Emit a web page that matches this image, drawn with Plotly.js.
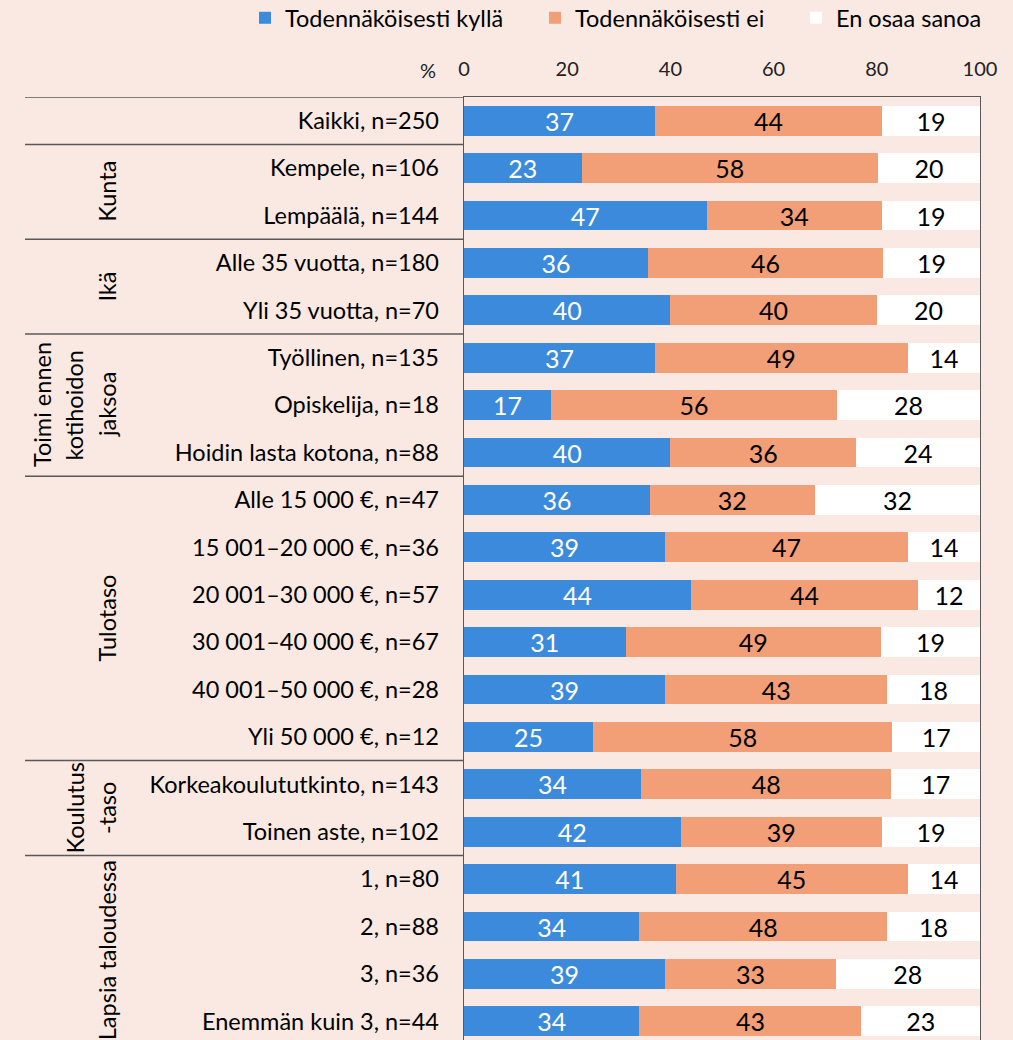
<!DOCTYPE html>
<html>
<head>
<meta charset="utf-8">
<script src="https://cdn.plot.ly/plotly-3.0.1.min.js"></script>
<style>
  html, body { margin: 0; padding: 0; background: #F9E9E2; }
  #chart { width: 1013px; height: 1040px; }
</style>
</head>
<body>
<div id="chart"></div>
<script>
// ---- Data ----
const categories = [
  "Kaikki, n=250",
  "Kempele, n=106",
  "Lempäälä, n=144",
  "Alle 35 vuotta, n=180",
  "Yli 35 vuotta, n=70",
  "Työllinen, n=135",
  "Opiskelija, n=18",
  "Hoidin lasta kotona, n=88",
  "Alle 15 000 €, n=47",
  "15 001–20 000 €, n=36",
  "20 001–30 000 €, n=57",
  "30 001–40 000 €, n=67",
  "40 001–50 000 €, n=28",
  "Yli 50 000 €, n=12",
  "Korkeakoulututkinto, n=143",
  "Toinen aste, n=102",
  "1, n=80",
  "2, n=88",
  "3, n=36",
  "Enemmän kuin 3, n=44"
];
const kylla = [37, 23, 47, 36, 40, 37, 17, 40, 36, 39, 44, 31, 39, 25, 34, 42, 41, 34, 39, 34];
const ei    = [44, 58, 34, 46, 40, 49, 56, 36, 32, 47, 44, 49, 43, 58, 48, 39, 45, 48, 33, 43];
const eos   = [19, 20, 19, 19, 20, 14, 28, 24, 32, 14, 12, 19, 18, 17, 17, 19, 14, 18, 28, 23];
const seriesNames = ["Todennäköisesti kyllä", "Todennäköisesti ei", "En osaa sanoa"];
const xTicks = [0, 20, 40, 60, 80, 100];

// groups: label lines and number of rows
const groupLines = [[], ["Kunta"], ["Ikä"], ["Toimi ennen", "kotihoidon", "jaksoa"], ["Tulotaso"], ["Koulutus", "-taso"], ["Lapsia taloudessa"]];
const groupSizes = [1, 2, 2, 3, 6, 2, 4];

// ---- Styling ----
const W = 1013, H = 1040;
const mL = 464, mR = 33, mT = 97, mB = 0;
const plotW = W - mL - mR;
const plotH = H - mT - mB;
const FONT = "Lato, 'Open Sans', sans-serif";
const BG = "#F9E9E2";
const LINE = "#595959";
const colors = ["#3C8ADC", "#F29E76", "#FFFFFF"];
const textColors = ["#FFFFFF", "#000000", "#000000"];
const legendLeftPx = [245, 535, 796];
const legendIds = ["legend", "legend2", "legend3"];
const px2paper = px => (px - mL) / plotW;

const vals = [kylla, ei, eos];
const traces = vals.map((v, i) => ({
  type: "bar",
  orientation: "h",
  name: seriesNames[i],
  legend: legendIds[i],
  y: categories,
  x: v,
  text: v.map(String),
  texttemplate: "%{text}",
  textposition: "inside",
  insidetextanchor: "middle",
  constraintext: "none",
  textangle: 0,
  textfont: { family: FONT, size: 25, color: textColors[i] },
  marker: { color: colors[i], line: { width: 0 } },
  hoverinfo: "skip"
}));

// separators and group labels
const shapes = [];
const annotations = [];
let start = 0;
const sepX0 = px2paper(25);
shapes.push({ type: "line", xref: "paper", yref: "y", x0: sepX0, x1: 0, y0: -0.5, y1: -0.5, line: { color: LINE, width: 1.5 } });
groupSizes.forEach((n, gi) => {
  const end = start + n;
  shapes.push({ type: "line", xref: "paper", yref: "y", x0: sepX0, x1: 0, y0: end - 0.5, y1: end - 0.5, line: { color: LINE, width: 1.5 } });
  const lines = groupLines[gi];
  const center = (start - 0.5 + end - 0.5) / 2;
  lines.forEach((txt, li) => {
    const colPx = 107 - (lines.length - 1 - li) * 32.5;
    annotations.push({
      xref: "paper", yref: "y", x: px2paper(colPx), y: center,
      text: txt, textangle: -90, showarrow: false,
      xanchor: "center", yanchor: "middle",
      font: { family: FONT, size: 23.5, color: "#000000" }
    });
  });
  start = end;
});
annotations.push({
  xref: "paper", yref: "paper", x: px2paper(428), y: 1, yshift: 27,
  text: "%", showarrow: false, xanchor: "center", yanchor: "middle",
  font: { family: FONT, size: 20, color: "#222222" }
});

const legendBase = {
  orientation: "h",
  xanchor: "left",
  y: 1 + (mT - 18) / plotH, yanchor: "middle",
  font: { family: FONT, size: 23.5, color: "#000000" },
  bgcolor: "rgba(0,0,0,0)",
  borderwidth: 0
};

const layout = {
  width: W, height: H,
  margin: { l: mL, r: mR, t: mT, b: mB, pad: 0, autoexpand: false },
  paper_bgcolor: BG, plot_bgcolor: BG,
  barmode: "stack",
  barnorm: "percent",
  bargap: 0.37,
  showlegend: true,
  legend: Object.assign({}, legendBase, { x: px2paper(legendLeftPx[0]) }),
  legend2: Object.assign({}, legendBase, { x: px2paper(legendLeftPx[1]) }),
  legend3: Object.assign({}, legendBase, { x: px2paper(legendLeftPx[2]) }),
  xaxis: {
    side: "top",
    range: [0, 100],
    tickvals: xTicks,
    ticktext: xTicks.map(String),
    showgrid: false,
    zeroline: false,
    showline: true, linecolor: LINE, linewidth: 1.3,
    ticks: "",
    ticklabelstandoff: 12,
    tickfont: { family: FONT, size: 20, color: "#222222" },
    automargin: false,
    fixedrange: true
  },
  yaxis: {
    type: "category",
    categoryorder: "array",
    categoryarray: categories,
    autorange: false,
    range: [plotH / 47.4 - 0.5, -0.5],
    showgrid: false,
    zeroline: false,
    showline: true, mirror: true, linecolor: LINE, linewidth: 1.3,
    ticks: "",
    ticklabelstandoff: 19,
    tickfont: { family: FONT, size: 23.5, color: "#000000" },
    automargin: false,
    fixedrange: true
  },
  shapes: shapes,
  annotations: annotations,
  font: { family: FONT }
};

Plotly.newPlot("chart", traces, layout, { displayModeBar: false, staticPlot: true });
</script>
</body>
</html>
